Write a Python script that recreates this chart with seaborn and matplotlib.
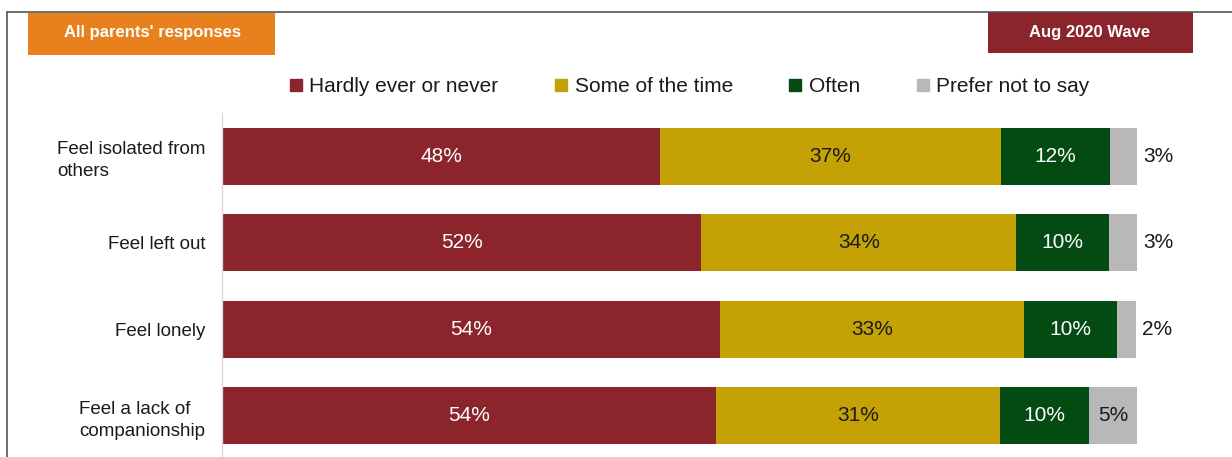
import numpy as np
import pandas as pd
import seaborn as sns
import matplotlib.pyplot as plt
from matplotlib.lines import Line2D
from matplotlib.patches import Rectangle

# Data (bar widths estimated, labels shown rounded)
statements = ["Feel isolated from\nothers", "Feel left out", "Feel lonely",
              "Feel a lack of\ncompanionship"]
responses = ["Hardly ever or never", "Some of the time", "Often", "Prefer not to say"]
hardly = [47.9, 52.4, 54.4, 54.0]
some_time = [37.2, 34.4, 33.3, 31.0]
often = [12.0, 10.1, 10.1, 9.8]
prefer_not = [2.9, 3.1, 2.1, 5.2]
colors = ["#8B252B", "#C4A105", "#034A13", "#B8B8B8"]
text_colors = ["white", "#1a1a1a", "white", "#1a1a1a"]

series = [hardly, some_time, often, prefer_not]
values = np.array(series)
cum = np.cumsum(values, axis=0)

sns.set_style("white")
plt.rcParams['font.family'] = ['Liberation Sans', 'DejaVu Sans']

fig = plt.figure(figsize=(12.32, 4.57), dpi=100)
ax = fig.add_axes([222 / 1232, 0, 915 / 1232, (457 - 113) / 457])

# stacked bars: draw cumulative totals from the longest down
for i in range(len(responses) - 1, -1, -1):
    df = pd.DataFrame({"statement": statements, "cum": cum[i]})
    sns.barplot(data=df, x="cum", y="statement", color=colors[i], saturation=1,
                width=0.66, ax=ax, orient="h", edgecolor="none")

# segment labels
for i in range(len(responses)):
    for j in range(len(statements)):
        v = values[i, j]
        left = cum[i, j] - v
        label = f"{round(v):.0f}%"
        if i == 3 and v < 4:
            ax.text(cum[i, j] + 0.7, j, label, ha="left", va="center",
                    fontsize=15, color="#1a1a1a")
        else:
            ax.text(left + v / 2, j, label, ha="center", va="center",
                    fontsize=15, color=text_colors[i])

ax.set_xlim(0, 100)
ax.set_ylim(3.48, -0.5)
ax.set_xlabel("")
ax.set_ylabel("")
ax.set_xticks([])
ax.tick_params(axis="y", length=0, pad=12, labelsize=13.5, labelcolor="#1a1a1a")
for lab in ax.get_yticklabels():
    lab.set_multialignment("left")
    lab.set_linespacing(1.4)
for s in ["top", "right", "bottom"]:
    ax.spines[s].set_visible(False)
ax.spines["left"].set_color("#D9D9D9")
ax.spines["left"].set_linewidth(1)

# legend
handles = [Line2D([], [], marker="s", linestyle="", markersize=8, color=c) for c in colors]
fig.legend(handles, responses, loc="center", bbox_to_anchor=(689 / 1232, 1 - 87 / 457),
           ncol=4, frameon=False, fontsize=15, handlelength=0.7, handletextpad=0.3,
           columnspacing=2.65, labelcolor="#1a1a1a")

# frame lines
fig.add_artist(Line2D([7 / 1232, 1], [1 - 12 / 457, 1 - 12 / 457], color="#555555", lw=1.2))
fig.add_artist(Line2D([7 / 1232, 7 / 1232], [0, 1 - 12 / 457], color="#555555", lw=1.2))

# header boxes
fig.add_artist(Rectangle((28 / 1232, 1 - 55 / 457), 247 / 1232, 42 / 457,
                         transform=fig.transFigure, color="#E8801E", lw=0))
fig.text(152 / 1232, 1 - 33 / 457, "All parents' responses", ha="center", va="center",
         fontsize=12, fontweight="bold", color="white")
fig.add_artist(Rectangle((988 / 1232, 1 - 53 / 457), 205 / 1232, 41 / 457,
                         transform=fig.transFigure, color="#8B252B", lw=0))
fig.text(1090 / 1232, 1 - 32 / 457, "Aug 2020 Wave", ha="center", va="center",
         fontsize=12, fontweight="bold", color="white")

fig.savefig("out.png", dpi=100)
